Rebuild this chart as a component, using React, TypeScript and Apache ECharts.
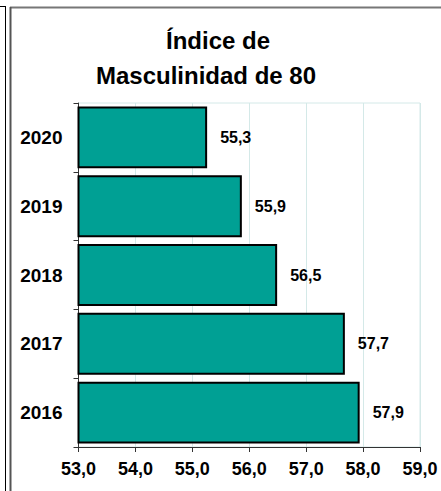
import React, { useEffect, useRef } from "react";
import * as echarts from "echarts";

const categories = ["2016", "2017", "2018", "2019", "2020"];
const values = [57.94, 57.68, 56.49, 55.87, 55.26];
const xTicks = { min: 53, max: 59, interval: 1 };
const titleLines = ["Índice de", "Masculinidad de 80"];

const FONT = "'Liberation Sans', Arial, sans-serif";
const fmt = (v: number) => v.toFixed(1).replace(".", ",");

export default function App() {
  const ref = useRef<HTMLDivElement>(null);
  useEffect(() => {
    if (!ref.current) return;
    const chart = echarts.init(ref.current, null, { renderer: "svg" });
    chart.setOption({
      animation: false,
      backgroundColor: "#ffffff",
      grid: {
        left: 78.5,
        right: 21,
        top: 103,
        bottom: 44,
        show: true,
        borderColor: "#d4e9e8",
        borderWidth: 1,
        outerBoundsMode: "none",
      },
      xAxis: {
        type: "value",
        min: xTicks.min,
        max: xTicks.max,
        interval: xTicks.interval,
        axisLine: { show: true, lineStyle: { color: "#333", width: 1 } },
        axisTick: { show: true, length: 5, lineStyle: { color: "#333" } },
        splitLine: { show: true, lineStyle: { color: "#d4e9e8", width: 1 } },
        axisLabel: {
          formatter: (v: number) => fmt(v),
          fontFamily: FONT,
          fontWeight: "bold",
          fontSize: 18,
          color: "#000",
          margin: 13,
        },
      },
      yAxis: {
        type: "category",
        data: categories,
        axisLine: { show: true, lineStyle: { color: "#333", width: 1 } },
        axisTick: { show: true, length: 5, lineStyle: { color: "#333" } },
        axisLabel: {
          fontFamily: FONT,
          fontWeight: "bold",
          fontSize: 19,
          color: "#000",
          margin: 16,
        },
      },
      series: [
        {
          type: "bar",
          data: values,
          barCategoryGap: "10%",
          itemStyle: { color: "#00A094", borderColor: "#000", borderWidth: 2 },
          label: {
            show: true,
            position: "right",
            distance: 13,
            formatter: (p: any) => fmt(p.value),
            fontFamily: FONT,
            fontWeight: "bold",
            fontSize: 16,
            color: "#000",
          },
        },
      ],
      graphic: [
        { type: "line", shape: { x1: 0, y1: 6.5, x2: 5.5, y2: 6.5 }, style: { stroke: "#000", lineWidth: 1 } },
        { type: "line", shape: { x1: 5.5, y1: 6, x2: 5.5, y2: 491 }, style: { stroke: "#000", lineWidth: 1 } },
        { type: "line", shape: { x1: 10, y1: 7.5, x2: 441, y2: 7.5 }, style: { stroke: "#777", lineWidth: 2 } },
        { type: "line", shape: { x1: 10.5, y1: 7, x2: 10.5, y2: 491 }, style: { stroke: "#555", lineWidth: 2 } },
        {
          type: "text",
          x: 218,
          y: 40,
          style: {
            text: titleLines[0],
            fontFamily: FONT,
            fontWeight: "bold",
            fontSize: 24,
            fill: "#000",
            textAlign: "center",
            textVerticalAlign: "middle",
          },
        },
        {
          type: "text",
          x: 206,
          y: 75,
          style: {
            text: titleLines[1],
            fontFamily: FONT,
            fontWeight: "bold",
            fontSize: 24,
            fill: "#000",
            textAlign: "center",
            textVerticalAlign: "middle",
          },
        },
      ],
    });
    return () => chart.dispose();
  }, []);
  return (
    <div
      ref={ref}
      style={{ position: "fixed", left: 0, top: 0, width: 441, height: 491 }}
    />
  );
}
